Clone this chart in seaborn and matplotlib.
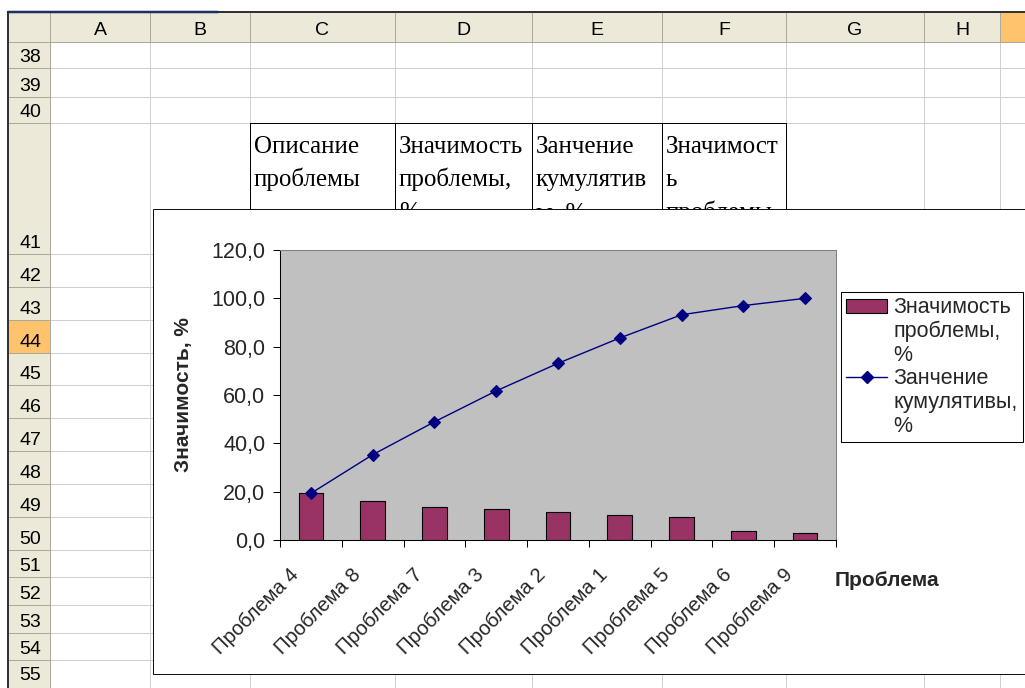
import numpy as np
import matplotlib
matplotlib.use("Agg")
import matplotlib.pyplot as plt
import seaborn as sns
from matplotlib.patches import Rectangle
from matplotlib.lines import Line2D
from matplotlib.transforms import ScaledTranslation

# ---------------- chart data ----------------
problems = ["Проблема 4", "Проблема 8", "Проблема 7", "Проблема 3", "Проблема 2",
            "Проблема 1", "Проблема 5", "Проблема 6", "Проблема 9"]
significance = [19.3, 16.0, 13.6, 12.8, 11.4, 10.5, 9.6, 3.8, 3.0]
cumulative = [19.3, 35.3, 48.9, 61.7, 73.1, 83.6, 93.2, 97.0, 100.0]
y_ticks = [0, 20, 40, 60, 80, 100, 120]
y_tick_labels = ["0,0", "20,0", "40,0", "60,0", "80,0", "100,0", "120,0"]
bar_series = "Значимость проблемы, %"
line_series = "Занчение кумулятивы, %"
x_title = "Проблема"
y_title = "Значимость, %"

# ---------------- worksheet content ----------------
column_letters = ["A", "B", "C", "D", "E", "F", "G", "H", ""]
row_numbers = list(range(38, 56))
header_cells = [
    ["Описание", "проблемы"],
    ["Значимость", "проблемы,", "%"],
    ["Занчение", "кумулятив", "ы, %"],
    ["Значимост", "ь", "проблемы"],
]

# ---------------- layout (pixels) ----------------
W, H = 1025, 688
col_edges = [50, 150, 250, 395, 532, 662, 786, 924, 1000, 1040]
row_edges = [42, 68, 97, 123, 254, 287, 320, 353, 385, 418, 451, 484, 517,
             550, 577, 605, 633, 660, 686]
PX = 72 / 100  # one pixel in points

HEAD = "#ECE9D8"
HEAD_LINE = "#ACA899"
GRID = "#D0D0D0"
SEL = "#FFC36E"
BAR = "#993366"
LINE = "#000080"
FS = 15.5

sns.set_theme(style="white")
plt.rcParams["font.family"] = ["Liberation Sans", "DejaVu Sans"]

fig = plt.figure(figsize=(W / 100, H / 100), dpi=100)
fig.patch.set_facecolor("white")

# ---------------- worksheet background ----------------
sheet = fig.add_axes([0, 0, 1, 1])
sheet.set_xlim(0, W)
sheet.set_ylim(H, 0)
sheet.axis("off")

sheet.add_patch(Rectangle((8, 12), W, 30, facecolor=HEAD, edgecolor="none"))
sheet.add_patch(Rectangle((8, 42), 42, H, facecolor=HEAD, edgecolor="none"))
sheet.add_patch(Rectangle((8, row_edges[6]), 42, row_edges[7] - row_edges[6],
                          facecolor=SEL, edgecolor="none"))
sheet.add_patch(Rectangle((col_edges[8], 12), 60, 30, facecolor=SEL, edgecolor="none"))

for x in col_edges[1:-1]:
    sheet.plot([x, x], [42, H], color=GRID, lw=PX)
for y in row_edges[1:-1]:
    sheet.plot([50, W], [y, y], color=GRID, lw=PX)
for x in col_edges[:-1]:
    sheet.plot([x, x], [12, 42], color=HEAD_LINE, lw=PX)
for y in row_edges[:-1]:
    sheet.plot([8, 50], [y, y], color=HEAD_LINE, lw=PX)
sheet.plot([8, W], [42, 42], color=HEAD_LINE, lw=PX)
sheet.plot([50, 50], [42, H], color=HEAD_LINE, lw=PX)
sheet.plot([8, W], [12, 12], color="#333333", lw=2 * PX)
sheet.plot([8, 8], [12, H], color="#333333", lw=2 * PX)
sheet.plot([8, 218], [11.5, 11.5], color="#1F2F60", lw=2.5 * PX)

for i, letter in enumerate(column_letters):
    cx = (col_edges[i] + col_edges[i + 1]) / 2
    sheet.text(cx, 35, letter, ha="center", va="baseline", fontsize=14, color="black")
for j, n in enumerate(row_numbers):
    sheet.text(30, row_edges[j + 1] - 6, str(n), ha="center", va="baseline",
               fontsize=14, color="black")

# bordered header cells C41:F41
for k, lines in enumerate(header_cells):
    x0 = col_edges[2 + k]
    for m, line in enumerate(lines):
        sheet.text(x0 + 4, 153 + 33 * m, line, ha="left", va="baseline",
                   fontsize=18, family=["Liberation Serif", "DejaVu Serif"], color="black")
sheet.plot([250, 786], [123, 123], color="black", lw=PX)
for x in col_edges[2:7]:
    sheet.plot([x, x], [123, 254], color="black", lw=PX)

# chart area
sheet.add_patch(Rectangle((153, 209), W, 674 - 209, facecolor="white",
                          edgecolor="#111111", lw=PX, zorder=20))

# ---------------- Pareto chart ----------------
L, R, T, B = 280, 836, 250, 540
ax = fig.add_axes([L / W, 1 - B / H, (R - L) / W, (B - T) / H])
ax.set_facecolor("#C0C0C0")

sns.barplot(x=problems, y=significance, color=BAR, saturation=1, width=0.4,
            edgecolor="black", linewidth=0.8, ax=ax, zorder=2)
sns.lineplot(x=np.arange(len(problems)), y=cumulative, color=LINE, marker="D",
             markersize=6, markeredgecolor=LINE, markeredgewidth=0.8,
             linewidth=1.0, ax=ax, zorder=3)

ax.grid(False)
ax.set_xlim(-0.5, len(problems) - 0.5)
ax.set_ylim(0, 120)
ax.set_yticks(y_ticks)
ax.set_yticklabels(y_tick_labels, fontsize=FS)
ax.set_xticks(np.arange(len(problems)))
ax.set_xticklabels(problems, rotation=45, ha="right", va="center",
                   rotation_mode="anchor", fontsize=14.5)
ax.set_xticks(np.arange(-0.5, len(problems), 1.0), minor=True)
ax.tick_params(axis="x", which="major", bottom=True, length=0, pad=23)
ax.tick_params(axis="x", which="minor", bottom=True, length=5, width=0.75,
               color="black", direction="out")
ax.tick_params(axis="y", which="major", left=True, length=5, width=0.75,
               color="black", direction="out", pad=5.5)
shift = ScaledTranslation(-0.15, 0, fig.dpi_scale_trans)
for lbl in ax.get_xticklabels():
    lbl.set_transform(lbl.get_transform() + shift)

for side in ["left", "bottom"]:
    ax.spines[side].set_color("black")
    ax.spines[side].set_linewidth(0.75)
for side in ["top", "right"]:
    ax.spines[side].set_color("#808080")
    ax.spines[side].set_linewidth(0.75)

ax.set_ylabel(y_title, fontsize=15, fontweight="bold", va="center", ha="center")
ax.yaxis.set_label_coords((183 - L) / (R - L), 0.5)
ax.set_xlabel(x_title, fontsize=15, fontweight="bold", va="center", ha="center")
ax.xaxis.set_label_coords((887 - L) / (R - L), -(581 - B) / (B - T))

# legend: each series name wrapped over several lines, symbol beside the first
blank = Rectangle((0, 0), 1, 1, fill=False, edgecolor="none", linewidth=0)
bar_handle = Rectangle((0, 0), 1, 1, facecolor=BAR, edgecolor="black", linewidth=0.8)
line_handle = Line2D([], [], color=LINE, marker="D", markersize=6, linewidth=1.0)
handles, labels = [], []
for handle, name in [(bar_handle, bar_series), (line_handle, line_series)]:
    for m, word in enumerate(name.split()):
        handles.append(handle if m == 0 else blank)
        labels.append(word)
leg = ax.legend(handles, labels, loc="upper left",
                bbox_to_anchor=(841 / W, 1 - 292 / H), bbox_transform=fig.transFigure,
                borderaxespad=0, frameon=True, fancybox=False, edgecolor="black",
                facecolor="white", framealpha=1, fontsize=FS, handlelength=1.9,
                handleheight=0.65, handletextpad=0.3, labelspacing=0.12, borderpad=0.25)
leg.get_frame().set_linewidth(0.75)

fig.savefig("out.png", dpi=100)
